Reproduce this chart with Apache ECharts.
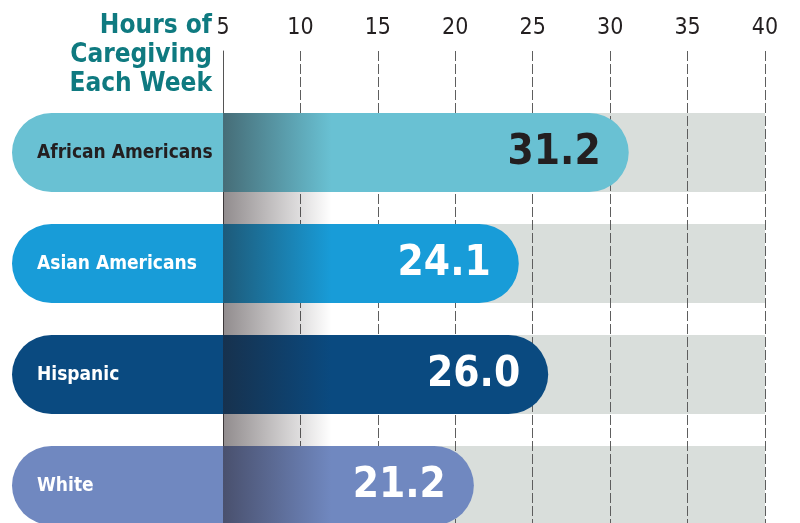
<!DOCTYPE html>
<html>
<head>
<meta charset="utf-8">
<script src="https://cdn.jsdelivr.net/npm/echarts@6/dist/echarts.min.js"></script>
<style>
  html, body { margin: 0; padding: 0; background: #fff; }
  #chart { width: 800px; height: 523px; }
</style>
</head>
<body>
<div id="chart"></div>
<script>
// data
const categories = ["African Americans", "Asian Americans", "Hispanic", "White"];
const hours = [31.2, 24.1, 26.0, 21.2];
const barColors = ["#69c1d3", "#189cd8", "#0a4a80", "#7088c0"];
const textColors = ["#231f20", "#ffffff", "#ffffff", "#ffffff"];
const titleLines = ["Hours of", "Caregiving", "Each Week"];
const hoursMin = 5;
const hoursMax = 40;
const hoursStep = 5;

// layout
const FONT = "'DejaVu Sans Condensed', 'Liberation Sans Narrow', sans-serif";
const LABEL_AREA = 211; // px the pill sticks out left of the axis
const BAR_RATIO = 0.712;
const SHADE_END = 12;   // where the shadow on the axis fades out
const GRID_LEFT = 223;
const GRID_RIGHT = 35;

const chart = echarts.init(document.getElementById("chart"), null, { renderer: "canvas" });

const rowData = hours.map((v, i) => [v, i]);

const bandHeight = (api) => api.size([0, 1])[1] * BAR_RATIO;

const option = {
  backgroundColor: "#ffffff",
  animation: false,
  // title block, one line per element so every line sits flush right
  graphic: titleLines.map((line, i) => ({
    type: "text",
    right: 800 - 212,
    top: 13 + i * 29,
    style: {
      text: line,
      fill: "#0f7a80",
      font: `bold 26px ${FONT}`,
    },
  })),
  grid: [
    // bars (runs past the bottom edge, the last row is cut off)
    { left: GRID_LEFT, right: GRID_RIGHT, top: 97, height: 444, outerBoundsMode: "none" },
    // grid lines + tick labels
    { left: GRID_LEFT, right: GRID_RIGHT, top: 51, bottom: 0, outerBoundsMode: "none" },
  ],
  xAxis: [
    {
      gridIndex: 0,
      type: "value",
      min: hoursMin,
      max: hoursMax,
      interval: hoursStep,
      show: false,
    },
    {
      gridIndex: 1,
      type: "value",
      position: "top",
      min: hoursMin,
      max: hoursMax,
      interval: hoursStep,
      z: 1.5,
      axisLine: { show: false },
      axisTick: { show: false },
      axisLabel: {
        margin: 11,
        color: "#231f20",
        fontFamily: FONT,
        fontSize: 23,
      },
      splitLine: {
        show: true,
        lineStyle: { color: "#5e5e5e", width: 1, type: [10, 3] },
      },
    },
  ],
  yAxis: [
    {
      gridIndex: 0,
      type: "category",
      data: categories,
      inverse: true,
      show: false,
    },
    {
      gridIndex: 1,
      type: "value",
      min: 0,
      max: 1,
      z: 1.5,
      axisLine: { show: true, onZero: false, lineStyle: { color: "#555555", width: 1 } },
      axisTick: { show: false },
      axisLabel: { show: false },
      splitLine: { show: false },
    },
  ],
  series: [
    {
      // grey track behind each bar
      type: "custom",
      z: 1,
      xAxisIndex: 0,
      yAxisIndex: 0,
      data: rowData,
      renderItem: (params, api) => {
        const a = api.coord([hoursMin, api.value(1)]);
        const b = api.coord([hoursMax, api.value(1)]);
        const h = bandHeight(api);
        return {
          type: "rect",
          shape: { x: a[0], y: a[1] - h / 2, width: b[0] - a[0], height: h },
          style: { fill: "#d9dedb" },
        };
      },
    },
    {
      type: "custom",
      z: 3,
      clip: false,
      xAxisIndex: 0,
      yAxisIndex: 0,
      data: rowData,
      renderItem: (params, api) => {
        const start = api.coord([hoursMin, api.value(1)]);
        const end = api.coord([api.value(0), api.value(1)]);
        const h = bandHeight(api);
        const left = start[0] - LABEL_AREA;
        return {
          type: "rect",
          shape: { x: left, y: end[1] - h / 2, width: end[0] - left, height: h, r: h / 2 },
          style: { fill: barColors[params.dataIndex] },
        };
      },
    },
    {
      // soft shadow along the axis
      type: "custom",
      z: 4,
      clip: false,
      silent: true,
      xAxisIndex: 0,
      yAxisIndex: 0,
      data: [[hoursMin, 0]],
      renderItem: (params, api) => {
        const a = api.coord([hoursMin, 0]);
        const b = api.coord([SHADE_END, 0]);
        const h = bandHeight(api);
        const top = a[1] - h / 2;
        const bottom = params.coordSys.y + params.coordSys.height;
        return {
          type: "rect",
          shape: { x: a[0], y: top, width: b[0] - a[0], height: bottom - top },
          style: {
            fill: new echarts.graphic.LinearGradient(0, 0, 1, 0, [
              { offset: 0, color: "rgba(35, 25, 28, 0.5)" },
              { offset: 1, color: "rgba(35, 25, 28, 0)" },
            ]),
          },
        };
      },
    },
    {
      // category names and values
      type: "custom",
      z: 5,
      clip: false,
      xAxisIndex: 0,
      yAxisIndex: 0,
      data: rowData,
      renderItem: (params, api) => {
        const i = params.dataIndex;
        const start = api.coord([hoursMin, api.value(1)]);
        const end = api.coord([api.value(0), api.value(1)]);
        return {
          type: "group",
          children: [
            {
              type: "text",
              x: start[0] - LABEL_AREA + 25,
              y: start[1] + 1,
              style: {
                text: categories[i],
                fill: textColors[i],
                font: `bold 19px ${FONT}`,
                align: "left",
                verticalAlign: "middle",
              },
            },
            {
              type: "text",
              x: end[0] - 28,
              y: end[1] + 1,
              style: {
                text: hours[i].toFixed(1),
                fill: textColors[i],
                font: `bold 42px ${FONT}`,
                align: "right",
                verticalAlign: "middle",
              },
            },
          ],
        };
      },
    },
  ],
};

chart.setOption(option);
</script>
</body>
</html>
